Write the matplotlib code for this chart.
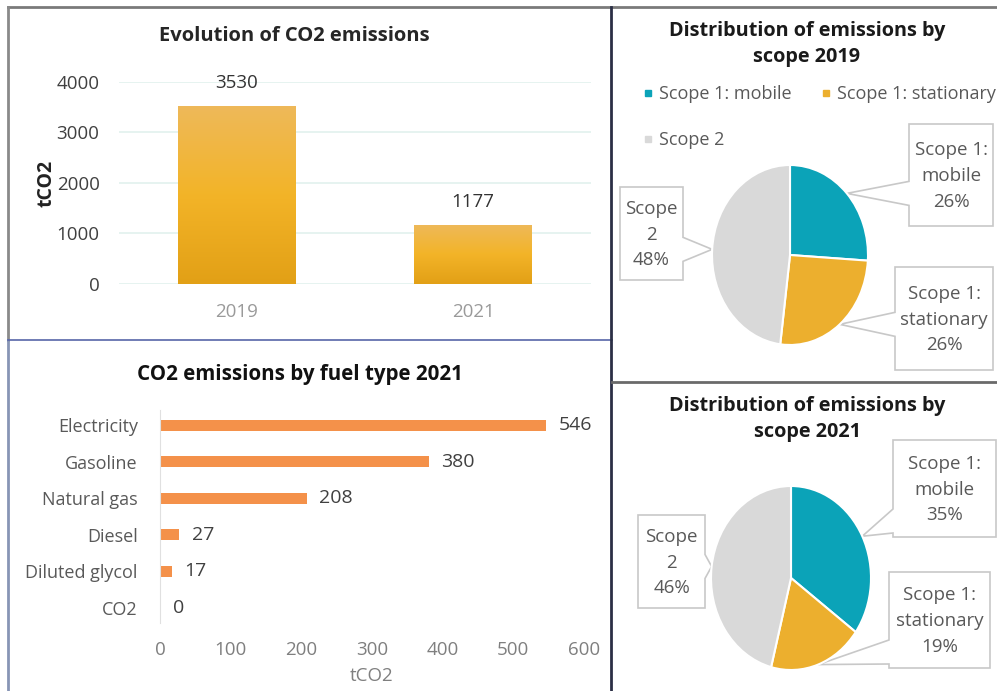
import matplotlib
matplotlib.use("Agg")
import matplotlib.pyplot as plt
import numpy as np
from matplotlib.colors import LinearSegmentedColormap
from matplotlib.lines import Line2D
from matplotlib.patches import Polygon

plt.rcParams["font.family"] = ["Open Sans", "DejaVu Sans"]

# --- data -------------------------------------------------------------
years = ["2019", "2021"]
total_emissions = [3530, 1177]

fuels = ["Electricity", "Gasoline", "Natural gas", "Diesel", "Diluted glycol", "CO2"]
fuel_emissions = [546, 380, 208, 27, 17, 0]

scopes = ["Scope 1: mobile", "Scope 1: stationary", "Scope 2"]
scope_labels = ["Scope 1:\nmobile", "Scope 1:\nstationary", "Scope\n2"]
share_2019 = [26, 26, 48]
share_2021 = [35, 19, 46]

# --- layout helpers (pixel coords, origin top-left) -------------------
W, H = 997, 691
GRAY_TXT = "#595959"
SCOPE_COLORS = ["#0BA3B8", "#ECAF2E", "#D9D9D9"]


def rect(x0, y0, x1, y1):
    return [x0 / W, 1 - y1 / H, (x1 - x0) / W, (y1 - y0) / H]


fig = plt.figure(figsize=(W / 100, H / 100), dpi=100)
fig.patch.set_facecolor("white")

ov = fig.add_axes([0, 0, 1, 1], zorder=0)
ov.set_xlim(0, W)
ov.set_ylim(H, 0)
ov.axis("off")

# panel frames
frame = dict(transform=ov.transData, zorder=5)
ov.add_line(Line2D([8, 997], [7, 7], color="#7a7a7a", lw=2, **frame))
ov.add_line(Line2D([8, 8], [7, 340], color="#8a8a8a", lw=2, **frame))
ov.add_line(Line2D([8, 8], [340, 691], color="#8795b5", lw=2, **frame))
ov.add_line(Line2D([8, 612], [340, 340], color="#5866a8", lw=1.2, **frame))
ov.add_line(Line2D([611, 611], [7, 691], color="#2b2f45", lw=2, **frame))
ov.add_line(Line2D([612, 997], [382, 382], color="#6a6a6a", lw=2, **frame))

# --- top-left: evolution of CO2 emissions ------------------------------
ax1 = fig.add_axes(rect(119, 82, 591, 284))
bars = ax1.bar(years, total_emissions, width=0.5, color="none", zorder=2)
grad_cmap = LinearSegmentedColormap.from_list("g", ["#E2A016", "#F3B428", "#EEB95A"])
grad = np.linspace(0, 1, 256).reshape(-1, 1)
for b in bars:
    x0, h = b.get_x(), b.get_height()
    im = ax1.imshow(grad, cmap=grad_cmap, origin="lower", aspect="auto",
                    extent=[x0, x0 + b.get_width(), 0, h], zorder=2)
    im.set_clip_path(b)
    ax1.annotate(f"{h}", (b.get_x() + b.get_width() / 2, h), xytext=(0, 10),
                 textcoords="offset points", ha="center", va="bottom",
                 fontsize=13.5, color="#333333")
ax1.set_xlim(-0.5, 1.5)
ax1.set_ylim(0, 4000)
ax1.set_yticks(range(0, 4001, 1000))
ax1.yaxis.grid(True, color="#E2F1EE", lw=1.2)
ax1.set_axisbelow(True)
for s in ax1.spines.values():
    s.set_visible(False)
ax1.tick_params(length=0)
ax1.tick_params(axis="y", labelsize=13.5, labelcolor="#404040", pad=14)
ax1.tick_params(axis="x", labelsize=13.5, labelcolor="#9a9a9a", pad=14)
ax1.set_ylabel("tCO2", fontsize=14, fontweight="bold", color="#222222", labelpad=0)
ov.text(294, 36, "Evolution of CO2 emissions", ha="center", va="center",
        fontsize=14.5, fontweight="bold", color="#262626")

# --- bottom-left: emissions by fuel type -------------------------------
ax2 = fig.add_axes(rect(160, 410, 584, 623))
hb = ax2.barh(fuels, fuel_emissions, height=0.31, color="#F4914A")
ax2.invert_yaxis()
ax2.set_xlim(0, 600)
ax2.set_xticks(range(0, 601, 100))
for s in ["top", "right", "bottom"]:
    ax2.spines[s].set_visible(False)
ax2.spines["left"].set_color("#E0E0E0")
ax2.tick_params(length=0)
ax2.tick_params(axis="y", labelsize=13, labelcolor=GRAY_TXT, pad=16)
ax2.tick_params(axis="x", labelsize=13.5, labelcolor="#7f7f7f", pad=13)
ax2.set_xlabel("tCO2", fontsize=13.5, color="#7f7f7f", labelpad=6)
for b, v in zip(hb, fuel_emissions):
    ax2.annotate(f"{v}", (v, b.get_y() + b.get_height() / 2), xytext=(9, 0),
                 textcoords="offset points", ha="left", va="center",
                 fontsize=14, color="#404040")
ov.text(300, 374, "CO2 emissions by fuel type 2021", ha="center", va="center",
        fontsize=14.8, fontweight="bold", color="#111111")


# --- right: pies with callouts ----------------------------------------
def callout(ax, wedge, box, text):
    th = np.deg2rad((wedge.theta1 + wedge.theta2) / 2)
    cx, cy = wedge.center
    tip = ax.transData.transform((cx + wedge.r * np.cos(th), cy + wedge.r * np.sin(th)))
    tx, ty = ov.transData.inverted().transform(tip)
    x0, y0, x1, y1 = box
    hw = 12
    yb = min(max(ty, y0 + hw + 4), y1 - hw - 4)
    if tx < x0:
        pts = [(x0, y0), (x1, y0), (x1, y1), (x0, y1), (x0, yb + hw), (tx, ty), (x0, yb - hw)]
    else:
        pts = [(x0, y0), (x1, y0), (x1, yb - hw), (tx, ty), (x1, yb + hw), (x1, y1), (x0, y1)]
    ov.add_patch(Polygon(pts, closed=True, facecolor="white", edgecolor="#C8C8C8", lw=1.2, zorder=3))
    ov.text((x0 + x1) / 2, (y0 + y1) / 2 + 1, text, ha="center", va="center",
            fontsize=13.5, color=GRAY_TXT, linespacing=1.55, zorder=4)


def draw_pie(ax_rect, shares, boxes):
    ax = fig.add_axes(rect(*ax_rect))
    wedges, _ = ax.pie(shares, colors=SCOPE_COLORS, startangle=90, counterclock=False,
                       wedgeprops=dict(edgecolor="white", linewidth=1.5))
    ax.set_aspect("auto")
    ax.set_xlim(-1, 1)
    ax.set_ylim(-1, 1)
    for w, box, lab, v in zip(wedges, boxes, scope_labels, shares):
        callout(ax, w, box, f"{lab}\n{v}%")
    return ax


draw_pie((712, 165, 868, 345), share_2019,
         [(909, 124, 993, 226), (895, 267, 993, 370), (620, 187, 683, 280)])
ov.text(807, 44, "Distribution of emissions by\nscope 2019", ha="center", va="center",
        fontsize=14.3, fontweight="bold", color="#1a1a1a", linespacing=1.45)

draw_pie((711, 486, 871, 670), share_2021,
         [(893, 440, 996, 537), (889, 572, 990, 668), (638, 515, 705, 608)])
ov.text(807, 419, "Distribution of emissions by\nscope 2021", ha="center", va="center",
        fontsize=14.3, fontweight="bold", color="#1a1a1a", linespacing=1.45)

handles = [Line2D([], [], ls="", marker="s", markersize=5, color=c) for c in SCOPE_COLORS]
order = [0, 2, 1]
fig.legend([handles[i] for i in order], [scopes[i] for i in order],
           loc="upper left", bbox_to_anchor=(636 / W, 1 - 78 / H), ncol=2, frameon=False,
           fontsize=13, labelcolor=GRAY_TXT, handlelength=0.5, handletextpad=0.4,
           columnspacing=1.6, labelspacing=1.55, borderaxespad=0)

fig.savefig("out.png", dpi=100)
